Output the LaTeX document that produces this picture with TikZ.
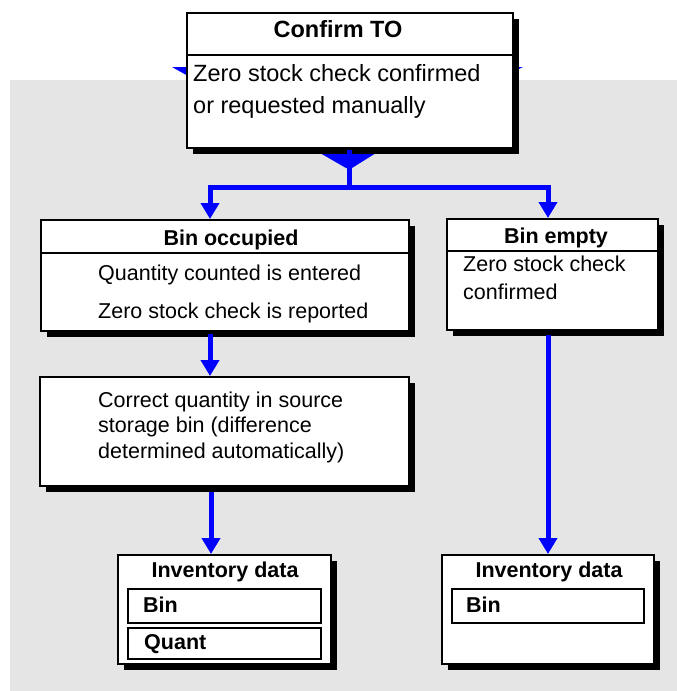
\documentclass[tikz,border=0pt]{standalone}
\usepackage{fontspec}
\setmainfont{Liberation Sans}
\usetikzlibrary{arrows.meta,shadows}
\definecolor{flowblue}{RGB}{0,0,255}
\definecolor{panel}{RGB}{229,229,229}

\begin{document}
\begin{tikzpicture}[x=1pt,y=-1pt,
  card/.style={draw=black, line width=2pt, fill=white, inner sep=0pt, anchor=north west,
    drop shadow={shadow xshift=6pt, shadow yshift=-6pt, fill=black, opacity=1}},
  slot/.style={draw=black, line width=1.5pt, fill=white, inner sep=0pt, anchor=north west},
  rule/.style={draw=black, line width=2pt},
  head/.style={font=\fontsize{21.5}{26}\selectfont\bfseries, inner sep=0pt, anchor=base},
  body/.style={font=\fontsize{21.5}{26}\selectfont, inner sep=0pt, anchor=base west},
  bighead/.style={head, font=\fontsize{23.5}{28}\selectfont\bfseries},
  bigbody/.style={body, font=\fontsize{23.5}{28}\selectfont},
  flow/.style={draw=flowblue, line width=5pt, line join=miter,
    -{Triangle[width=18pt,length=16pt]}},
]
\useasboundingbox (0,0) rectangle (677,691);

% grey panel
\fill[panel] (10,80) rectangle (677,691);

% blue tips peeking out behind the top card
\fill[flowblue] (172,67) -- (188,67) -- (188,76) -- cycle;
\fill[flowblue] (510,67) -- (523,67) -- (510,73) -- cycle;
\fill[flowblue] (320,153) -- (376,153) -- (352,168) -- (346,168) -- cycle;

% top card
\node[card, minimum width=326pt, minimum height=135pt] (conf) at (186,12) {};
\draw[rule] (186,55) -- (512,55);
\node[bighead] (confhead) at (338,37) {Confirm TO};
\node[bigbody] (confa) at (193,81) {Zero stock check confirmed};
\node[bigbody] (confb) at (193,113) {or requested manually};

% second row
\node[card, minimum width=368pt, minimum height=111pt] (bocc) at (40,219) {};
\draw[rule] (40,253) -- (408,253);
\node[head] (bocchead) at (231,245) {Bin occupied};
\node[body] (bocca) at (98,280) {Quantity counted is entered};
\node[body] (boccb) at (98,318) {Zero stock check is reported};

\node[card, minimum width=211pt, minimum height=111pt] (bemp) at (446,218) {};
\draw[rule] (446,251) -- (657,251);
\node[head] (bemphead) at (556,243) {Bin empty};
\node[body] (bempa) at (463,271) {Zero stock check};
\node[body] (bempb) at (463,299) {confirmed};

% correction card
\node[card, minimum width=369pt, minimum height=109pt] (corr) at (39,376) {};
\node[body] (corra) at (98,407) {Correct quantity in source};
\node[body] (corrb) at (98,432) {storage bin (difference};
\node[body] (corrc) at (98,458) {determined automatically)};

% inventory data cards
\node[card, minimum width=213pt, minimum height=109pt] (invl) at (117,554) {};
\node[head] (invlhead) at (225,577) {Inventory data};
\node[slot, minimum width=193pt, minimum height=34pt] (binl) at (127,588) {};
\node[slot, minimum width=193pt, minimum height=31pt] (quant) at (127,627) {};
\node[head, anchor=base west] (binltext) at (143,612) {Bin};
\node[head, anchor=base west] (quanttext) at (144,649) {Quant};

\node[card, minimum width=212pt, minimum height=109pt] (invr) at (441,554) {};
\node[head] (invrhead) at (549,577) {Inventory data};
\node[slot, minimum width=192pt, minimum height=34pt] (binr) at (451,588) {};
\node[head, anchor=base west] (binrtext) at (466,612) {Bin};

% connectors
\draw[draw=flowblue, line width=5pt] (349,150) -- (349,187);
\coordinate (split) at (349,187);
\coordinate (jl) at (210,187);
\coordinate (jr) at (548,187);
\draw[flow] (split) -- (jl) -- (jl |- bocc.north);
\draw[flow] (split) -- (jr) -- (jr |- bemp.north);
\draw[flow] ([yshift=-2pt]jl |- bocc.south) -- (jl |- corr.north);
\draw[flow] ([xshift=1pt, yshift=-5pt]jl |- corr.south) -- ([xshift=1pt]jl |- invl.north);
\draw[flow] ([yshift=-4pt]jr |- bemp.south) -- (jr |- invr.north);
\end{tikzpicture}
\end{document}
